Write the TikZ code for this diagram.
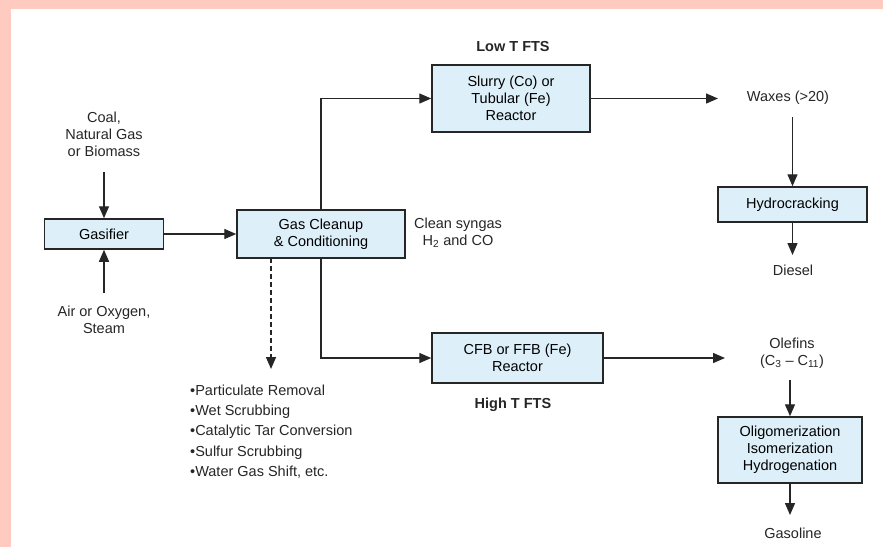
\documentclass[tikz,border=0pt]{standalone}
\usepackage{fontspec}
\setmainfont{Liberation Sans}
\usetikzlibrary{arrows.meta}
\definecolor{boxfill}{HTML}{DDF0FA}
\definecolor{pinkband}{HTML}{FFCAC0}
\definecolor{ink}{HTML}{262626}
\tikzset{
  procbox/.style={draw=ink, line width=1.5pt, fill=boxfill, align=center, inner sep=0pt},
  lbl/.style={align=center, inner sep=0pt, text=ink},
  flow/.style={draw=ink, line width=1.4pt, -{Triangle[length=12pt,width=10pt]}},
  dflow/.style={flow, dash pattern=on 5pt off 3pt},
  every node/.style={font=\fontsize{14.5}{17}\selectfont}
}
\begin{document}
\begin{tikzpicture}[x=1pt,y=-1pt]
\useasboundingbox (0,0) rectangle (883,547);
\fill[white] (0,0) rectangle (883,547);
\fill[pinkband] (0,0) rectangle (883,9);
\fill[pinkband] (0,0) rectangle (11,547);

% boxes
\node[procbox, minimum width=119pt, minimum height=30pt] (gas) at (104,234) {Gasifier};
\node[procbox, minimum width=168pt, minimum height=48pt] (gc) at (321,234) {Gas Cleanup\\ \& Conditioning};
\node[procbox, minimum width=158pt, minimum height=67pt] (slurry) at (511,98.5) {Slurry (Co) or\\ Tubular (Fe)\\ Reactor};
\node[procbox, minimum width=171pt, minimum height=50pt] (cfb) at (517.5,358) {CFB or FFB (Fe)\\ Reactor};
\node[procbox, minimum width=149pt, minimum height=35pt] (hydro) at (792.5,204.5) {Hydrocracking};
\node[procbox, minimum width=144pt, minimum height=66pt] (oligo) at (790,450) {Oligomerization\\ Isomerization\\ Hydrogenation};

% labels
\node[lbl] (coal) at (104,134) {Coal,\\ Natural Gas\\ or Biomass};
\node[lbl] (air) at (104,319.5) {Air or Oxygen,\\ Steam};
\node[lbl] (syn) at (458,233) {Clean syngas\\ H\textsubscript{2} and CO};
\node[lbl, font=\fontsize{14.5}{17}\selectfont\bfseries] (lowt) at (513,47) {Low T FTS};
\node[lbl, font=\fontsize{14.5}{17}\selectfont\bfseries] (hight) at (513,405) {High T FTS};
\node[lbl] (waxes) at (788,98) {Waxes (>20)};
\node[lbl] (diesel) at (793,270) {Diesel};
\node[lbl] (olef) at (792,353.5) {Olefins\\ (C\textsubscript{3} -- C\textsubscript{11})};
\node[lbl] (gasol) at (793,533) {Gasoline};
\node[lbl, align=left, anchor=west, font=\fontsize{14.5}{20.2}\selectfont] (list) at (190,431.5)
  {•Particulate Removal\\ •Wet Scrubbing\\ •Catalytic Tar Conversion\\ •Sulfur Scrubbing\\ •Water Gas Shift, etc.};

\coordinate (dtop) at (271,258);
\coordinate (dend) at (271,369);
\coordinate (waxin) at (718,98.5);
\coordinate (olin) at (725,358);

% connectors
\draw[flow] (coal.south |- 0,172) -- (gas.north);
\draw[flow] (air.north |- 0,293) -- (gas.south);
\draw[flow] (gas.east) -- (gc.west);
\draw[dflow] (dtop) -- (dend);
\draw[flow] (gc.north) |- (slurry.west);
\draw[flow] (gc.south) |- (cfb.west);
\draw[flow] (slurry.east) -- (waxin);
\draw[flow] (cfb.east) -- (olin);
\draw[flow] (hydro.north |- 0,117) -- (hydro.north);
\draw[flow] (hydro.south) -- (hydro.south |- 0,255);
\draw[flow] (oligo.north |- 0,380) -- (oligo.north);
\draw[flow] (oligo.south) -- (oligo.south |- 0,515);
\end{tikzpicture}
\end{document}
